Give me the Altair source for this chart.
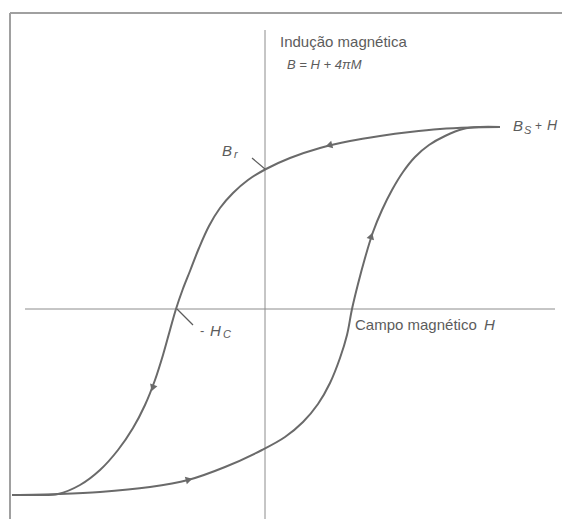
import altair as alt
import pandas as pd

# Hysteresis loop: field H and induction B (arbitrary units)
upper_H = [23.5, 20.5, 17.5, 14.5, 11.5, 8.5, 5.5, 2.5, 0.1, -1.7, -3.2, -4.5, -5.6, -6.6,
           -7.5, -8.25, -8.9, -9.5, -10.2, -11.0, -12.0, -13.2, -14.7, -16.5, -18.5, -20.7,
           -23.0, -25.3]
upper_B = [18.2, 18.15, 18.0, 17.7, 17.3, 16.8, 16.1, 15.1, 14.0, 12.9, 11.6, 10.1, 8.3, 6.1,
           3.8, 1.9, 0.0, -2.1, -4.6, -7.1, -9.6, -11.9, -14.1, -16.1, -17.6, -18.5,
           -18.6, -18.6]
lower_H = [-25.3, -20.7, -16.5, -11.5, -7.7, -4.0, -0.3, 2.0, 3.8, 5.3, 6.5, 7.5, 8.2, 8.7,
           9.3, 10.0, 10.8, 11.7, 12.7, 13.8, 15.0, 16.4, 18.0, 19.8, 21.5, 23.5]
lower_B = [-18.6, -18.5, -18.3, -17.8, -17.1, -15.8, -14.1, -12.8, -11.3, -9.5, -7.4, -4.9,
           -2.6, 0.0, 2.5, 5.1, 7.7, 9.9, 11.9, 13.7, 15.2, 16.4, 17.3, 18.0, 18.2, 18.2]

# Direction arrows along the loop (position and heading in degrees, clockwise from up)
arrow_H = [6.5, -11.2, -7.7, 10.6]
arrow_B = [16.4, -7.8, -17.1, 7.2]
arrow_angle = [255, 200, 75, 18]

H_DOMAIN = [-26.5, 29.7]
B_DOMAIN = [-21.0, 30.9]

CURVE = "#6a6a6a"
AXIS = "#8c8c8c"
TEXT = "#5c5c5c"
FONT = "Liberation Sans"

xs = alt.Scale(domain=H_DOMAIN, nice=False, zero=False)
ys = alt.Scale(domain=B_DOMAIN, nice=False, zero=False)

loop = pd.DataFrame(
    [{"branch": "upper", "i": i, "H": h, "B": b} for i, (h, b) in enumerate(zip(upper_H, upper_B))]
    + [{"branch": "lower", "i": i, "H": h, "B": b} for i, (h, b) in enumerate(zip(lower_H, lower_B))]
)
arrows = pd.DataFrame({"H": arrow_H, "B": arrow_B, "ang": arrow_angle})

# Coordinate axes through the origin
haxis = pd.DataFrame({"H": [-24.0], "H2": [29.0], "B": [0.0]})
vaxis = pd.DataFrame({"H": [0.0], "B": [-21.0], "B2": [27.9]})

# Leader lines for the remanence and coercive-field labels
leaders = pd.DataFrame({
    "name": ["Br", "Br", "Hc", "Hc"],
    "i": [0, 1, 0, 1],
    "H": [-1.3, 0.0, -8.8, -7.2],
    "B": [15.1, 14.0, 0.0, -1.6],
})

normal_labels = pd.DataFrame({
    "t": ["Indução magnética", "Campo magnético", "-", "+"],
    "H": [1.5, 9.0, -6.5, 27.0],
    "B": [26.7, -1.6, -2.2, 18.3],
    "s": [15, 15, 13, 12],
})
italic_labels = pd.DataFrame({
    "t": ["B = H + 4πM", "B", "r", "B", "S", "H", "H", "C", "H"],
    "H": [2.2, -4.3, -3.1, 24.8, 25.9, 28.2, -5.5, -4.2, 21.9],
    "B": [24.4, 15.8, 15.4, 18.3, 17.85, 18.3, -2.2, -2.55, -1.6],
    "s": [13, 15, 11, 15, 11, 14, 15, 11, 15],
})

h_rule = alt.Chart(haxis).mark_rule(color=AXIS, strokeWidth=1).encode(
    x=alt.X("H:Q", scale=xs, axis=None), x2="H2:Q", y=alt.Y("B:Q", scale=ys, axis=None)
)
v_rule = alt.Chart(vaxis).mark_rule(color=AXIS, strokeWidth=1).encode(
    x=alt.X("H:Q", scale=xs, axis=None), y=alt.Y("B:Q", scale=ys, axis=None), y2="B2:Q"
)

curves = alt.Chart(loop).mark_line(color=CURVE, strokeWidth=2, interpolate="catmull-rom").encode(
    x=alt.X("H:Q", scale=xs, axis=None),
    y=alt.Y("B:Q", scale=ys, axis=None),
    detail="branch:N",
    order="i:Q",
)

arrow_marks = alt.Chart(arrows).mark_point(
    shape="triangle", filled=True, color=CURVE, size=60, opacity=1
).encode(
    x=alt.X("H:Q", scale=xs, axis=None),
    y=alt.Y("B:Q", scale=ys, axis=None),
    angle=alt.Angle("ang:Q", scale=None),
)

leader_lines = alt.Chart(leaders).mark_line(color=TEXT, strokeWidth=1.2).encode(
    x=alt.X("H:Q", scale=xs, axis=None),
    y=alt.Y("B:Q", scale=ys, axis=None),
    detail="name:N",
    order="i:Q",
)

normal_text = alt.Chart(normal_labels).mark_text(
    align="left", baseline="middle", font=FONT, color=TEXT
).encode(
    x=alt.X("H:Q", scale=xs, axis=None),
    y=alt.Y("B:Q", scale=ys, axis=None),
    text="t:N",
    size=alt.Size("s:Q", scale=None),
)
italic_text = alt.Chart(italic_labels).mark_text(
    align="left", baseline="middle", font=FONT, fontStyle="italic", color=TEXT
).encode(
    x=alt.X("H:Q", scale=xs, axis=None),
    y=alt.Y("B:Q", scale=ys, axis=None),
    text="t:N",
    size=alt.Size("s:Q", scale=None),
)

# Page frame: top and left border lines
frame_top = alt.Chart(pd.DataFrame({"k": [0]})).mark_rule(color="#a0a0a0", strokeWidth=2).encode(
    x=alt.value(10), x2=alt.value(562), y=alt.value(13)
)
frame_left = alt.Chart(pd.DataFrame({"k": [0]})).mark_rule(color="#a0a0a0", strokeWidth=2).encode(
    x=alt.value(10), y=alt.value(13), y2=alt.value(519)
)

chart = alt.layer(
    frame_top, frame_left, h_rule, v_rule, curves, arrow_marks, leader_lines, normal_text, italic_text
).properties(
    width=562, height=519, autosize=alt.AutoSizeParams(type="none"), padding=0,
    background="white",
).configure_view(stroke=None)

chart.save("out.html", embed_options={"renderer": "svg", "actions": False})
